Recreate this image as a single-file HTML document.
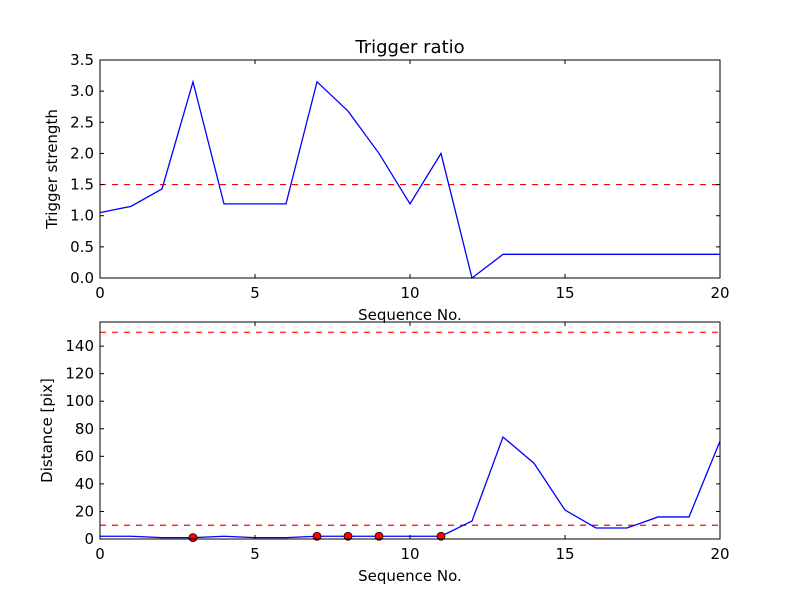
<!DOCTYPE html>
<html><head><meta charset="utf-8"><style>
body{margin:0;background:#fff;}
svg text{font-family:"DejaVu Sans","Liberation Sans",sans-serif;fill:#000;}
</style></head><body>
<svg id="c" width="800" height="600" xmlns="http://www.w3.org/2000/svg"></svg>
<script>
const xs = [0,1,2,3,4,5,6,7,8,9,10,11,12,13,14,15,16,17,18,19,20];
const strength = [1.05,1.15,1.43,3.15,1.19,1.19,1.19,3.15,2.68,2.0,1.19,2.0,0,0.38,0.38,0.38,0.38,0.38,0.38,0.38,0.38];
const distance = [2,2,1,1,2,1,1,2,2,2,2,2,13,74,55,21,8,8,16,16,71];
const triggerIdx = [3,7,8,9,11];
const xTicks = [0,5,10,15,20];
const topYTicks = [0,0.5,1,1.5,2,2.5,3,3.5];
const botYTicks = [0,20,40,60,80,100,120,140];
const topThreshold = [1.5];
const botThresholds = [10,150];

const svg = document.getElementById('c');
const NS = 'http://www.w3.org/2000/svg';
function mk(tag, attrs, parent){const e=document.createElementNS(NS,tag);for(const k in attrs)e.setAttribute(k,attrs[k]);(parent||svg).appendChild(e);return e;}

function panel(name, top, bottom, ymin, ymax, yTicks, yFmt, ylabel, series, thresholds, title){
  const L=100,R=720;
  const g=mk('g',{});
  
  
  const sx=v=>L+(v-0)/(20-0)*(R-L);
  const sy=v=>bottom-(v-ymin)/(ymax-ymin)*(bottom-top);
  // thresholds
  thresholds.forEach(t=>{
    const l=mk('line',{x1:L,x2:R,y1:sy(t),y2:sy(t),stroke:'#ff0000','stroke-width':1.2,'stroke-dasharray':'6,6'},g);
    
    
  });
  // series
  const p=mk('polyline',{points:xs.map((x,i)=>sx(x)+','+sy(series[i])).join(' '),fill:'none',stroke:'#0000ff','stroke-width':1.3},g);
  
  
  if(name==='distance-panel'){
    triggerIdx.forEach(i=>{
      const c=mk('circle',{cx:sx(xs[i]),cy:sy(series[i]),r:4,fill:'#ff0000',stroke:'#000','stroke-width':0.8},g);
      
      
    });
  }
  // frame
  const f=mk('rect',{x:L,y:top,width:R-L,height:bottom-top,fill:'none',stroke:'#000','stroke-width':1},g);
  
  
  xTicks.forEach(t=>{
    mk('line',{x1:sx(t),x2:sx(t),y1:bottom,y2:bottom-4,stroke:'#000'},g);
    mk('line',{x1:sx(t),x2:sx(t),y1:top,y2:top+4,stroke:'#000'},g);
    const tx=mk('text',{x:sx(t),y:bottom+20,'text-anchor':'middle','font-size':15},g);
    tx.textContent=t;
    
    
  });
  yTicks.forEach(t=>{
    mk('line',{x1:L,x2:L+4,y1:sy(t),y2:sy(t),stroke:'#000'},g);
    mk('line',{x1:R,x2:R-4,y1:sy(t),y2:sy(t),stroke:'#000'},g);
    const tx=mk('text',{x:L-6,y:sy(t)+5,'text-anchor':'end','font-size':15},g);
    tx.textContent=yFmt(t);
    
    
  });
  const xl=mk('text',{x:(L+R)/2,y:bottom+42,'text-anchor':'middle','font-size':15},g);
  xl.textContent='Sequence No.';
  
  
  const yl=mk('text',{x:0,y:0,'text-anchor':'middle','font-size':15,transform:`translate(${name==='distance-panel'?52:57},${(top+bottom)/2}) rotate(-90)`},g);
  yl.textContent=ylabel;
  
  
  if(title){
    const tt=mk('text',{x:(L+R)/2,y:top-7,'text-anchor':'middle','font-size':18},g);
    tt.textContent=title;
    
    
  }
}
panel('strength-panel',60,278,0,3.5,topYTicks,t=>t.toFixed(1),'Trigger strength',strength,topThreshold,'Trigger ratio');
panel('distance-panel',322,539,0,157.5,botYTicks,t=>String(t),'Distance [pix]',distance,botThresholds,null);
</script>
</body></html>
